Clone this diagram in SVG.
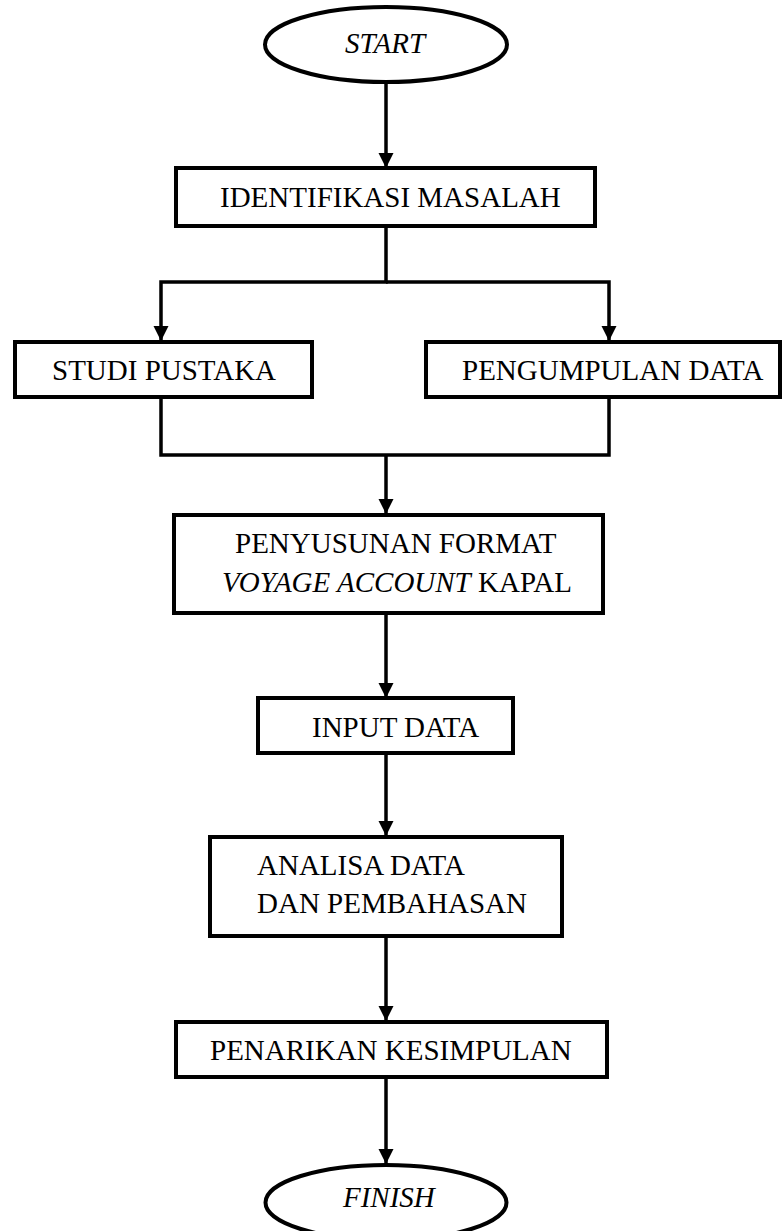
<svg xmlns="http://www.w3.org/2000/svg" width="782" height="1231" viewBox="0 0 782 1231">
<style>
.box{fill:#fff;stroke:#000;stroke-width:4}
.term{fill:#fff;stroke:#000;stroke-width:4}
.t{font-family:"Liberation Serif","Times New Roman",serif;font-size:29px;fill:#000}
.i{font-style:italic}
.c{fill:none;stroke:#000;stroke-width:3.5;stroke-linejoin:miter}
</style>
<defs>
<marker id="ah" markerUnits="userSpaceOnUse" markerWidth="16" markerHeight="16" refX="15" refY="7.5" orient="auto">
<path d="M0,0 L15,7.5 L0,15 z" fill="#000"/>
</marker>
</defs>
<g id="connectors">
<path class="c" d="M386,82 V168" marker-end="url(#ah)"/>
<path class="c" d="M386,226 V282 H161 V341" marker-end="url(#ah)"/>
<path class="c" d="M386,282 H609 V341" marker-end="url(#ah)"/>
<path class="c" d="M161,397 V455 H609 V397"/>
<path class="c" d="M386,455 V514" marker-end="url(#ah)"/>
<path class="c" d="M386,613 V698" marker-end="url(#ah)"/>
<path class="c" d="M386,753 V836" marker-end="url(#ah)"/>
<path class="c" d="M386,936 V1021" marker-end="url(#ah)"/>
<path class="c" d="M386,1077 V1164" marker-end="url(#ah)"/>
</g>
<g id="start">
<ellipse class="term" cx="386" cy="44.5" rx="121" ry="37.5"/>
<text class="t i" x="345" y="53">START</text>
</g>
<g id="identifikasi">
<rect class="box" x="176" y="168" width="419" height="58"/>
<text class="t" x="220" y="207">IDENTIFIKASI MASALAH</text>
</g>
<g id="studi">
<rect class="box" x="15" y="342" width="297" height="55"/>
<text class="t" x="52" y="380">STUDI PUSTAKA</text>
</g>
<g id="pengumpulan">
<rect class="box" x="426" y="342" width="354" height="55"/>
<text class="t" x="462" y="380">PENGUMPULAN DATA</text>
</g>
<g id="penyusunan">
<rect class="box" x="174" y="515" width="429" height="98"/>
<text class="t" x="235" y="553">PENYUSUNAN FORMAT</text>
<text class="t" x="222" y="592"><tspan class="i">VOYAGE ACCOUNT</tspan> KAPAL</text>
</g>
<g id="input">
<rect class="box" x="258" y="698" width="255" height="55"/>
<text class="t" x="312" y="737">INPUT DATA</text>
</g>
<g id="analisa">
<rect class="box" x="210" y="837" width="352" height="99"/>
<text class="t" x="257" y="875">ANALISA DATA</text>
<text class="t" x="257" y="913">DAN PEMBAHASAN</text>
</g>
<g id="penarikan">
<rect class="box" x="176" y="1022" width="431" height="55"/>
<text class="t" x="210" y="1060">PENARIKAN KESIMPULAN</text>
</g>
<g id="finish">
<ellipse class="term" cx="386" cy="1202.5" rx="120.5" ry="37.5"/>
<text class="t i" x="343" y="1207">FINISH</text>
</g>
</svg>
